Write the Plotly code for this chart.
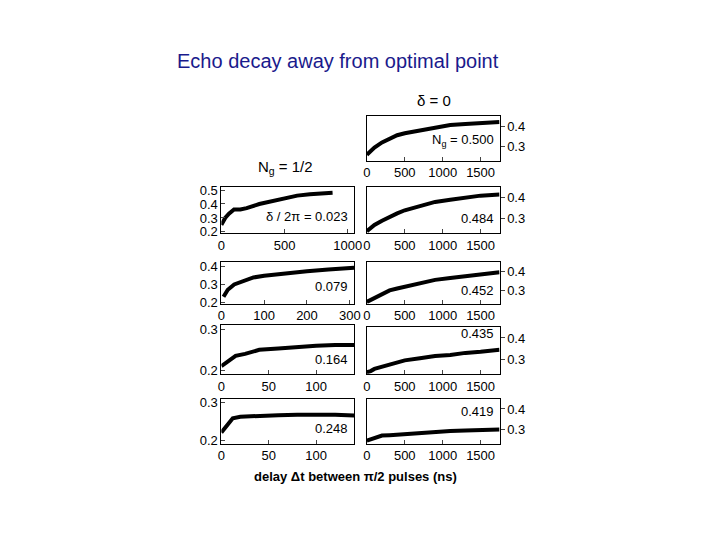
import plotly.graph_objects as go

W, H = 704, 524
OFF = 8
# data
t_long = [0, 50, 100, 200, 300, 400, 500, 700, 900, 1100, 1300, 1500, 1750]
d0 = [0.26, 0.28, 0.295, 0.32, 0.34, 0.355, 0.365, 0.38, 0.395, 0.405, 0.41, 0.415, 0.42]
r484 = [0.24, 0.255, 0.27, 0.29, 0.31, 0.325, 0.34, 0.36, 0.38, 0.39, 0.40, 0.41, 0.415]
r452 = [0.24, 0.25, 0.265, 0.285, 0.30, 0.31, 0.32, 0.34, 0.355, 0.365, 0.375, 0.385, 0.395]
r435 = [0.24, 0.245, 0.255, 0.265, 0.275, 0.285, 0.295, 0.305, 0.315, 0.32, 0.33, 0.335, 0.345]
r419 = [0.245, 0.25, 0.26, 0.27, 0.272, 0.275, 0.278, 0.283, 0.29, 0.292, 0.295, 0.298, 0.30]
t_l1 = [0, 30, 60, 100, 150, 200, 300, 400, 500, 600, 700, 800, 880]
l1 = [0.25, 0.30, 0.33, 0.36, 0.36, 0.37, 0.40, 0.42, 0.445, 0.46, 0.47, 0.475, 0.48]
t_l2 = [5, 15, 30, 50, 75, 100, 150, 200, 250, 300, 310]
l2 = [0.23, 0.27, 0.30, 0.32, 0.34, 0.35, 0.365, 0.375, 0.385, 0.39, 0.395]
t_l3 = [0, 15, 25, 40, 60, 80, 100, 120, 140]
l3 = [0.21, 0.235, 0.24, 0.25, 0.253, 0.257, 0.26, 0.262, 0.262]
t_l4 = [0, 12, 20, 40, 60, 80, 100, 120, 140]
l4 = [0.22, 0.258, 0.262, 0.265, 0.266, 0.267, 0.268, 0.267, 0.265]

def fx(x): return (x - OFF) / W
def fy(y): return 1 - (y - OFF) / H
def px(x0, x1): return [fx(x0), fx(x1)]
def py(y0, y1): return [fy(y1), fy(y0)]

fig = go.Figure()
panels = [
    ((369, 504), (113, 159), t_long, d0, [0, 1750], [0.23, 0.45], [0, 500, 1000, 1500], [0.3, 0.4], "right", "N<sub>g</sub> = 0.500", 0.33),
    ((221, 356), (186, 233), t_l1, l1, [0, 1050], [0.19, 0.52], [0, 500, 1000], [0.2, 0.3, 0.4, 0.5], "left", "δ / 2π = 0.023", 0.31),
    ((369, 504), (186, 233), t_long, r484, [0, 1750], [0.23, 0.45], [0, 500, 1000, 1500], [0.3, 0.4], "right", "0.484", 0.30),
    ((221, 356), (262, 305), t_l2, l2, [0, 310], [0.19, 0.43], [0, 100, 200, 300], [0.2, 0.3, 0.4], "left", "0.079", 0.29),
    ((369, 504), (262, 305), t_long, r452, [0, 1750], [0.23, 0.45], [0, 500, 1000, 1500], [0.3, 0.4], "right", "0.452", 0.30),
    ((221, 356), (327, 377), t_l3, l3, [0, 140], [0.19, 0.31], [0, 50, 100], [0.2, 0.3], "left", "0.164", 0.225),
    ((369, 504), (329, 377), t_long, r435, [0, 1750], [0.23, 0.45], [0, 500, 1000, 1500], [0.3, 0.4], "right", "0.435", 0.42),
    ((221, 356), (402, 448), t_l4, l4, [0, 140], [0.19, 0.31], [0, 50, 100], [0.2, 0.3], "left", "0.248", 0.23),
    ((369, 504), (402, 448), t_long, r419, [0, 1750], [0.23, 0.45], [0, 500, 1000, 1500], [0.3, 0.4], "right", "0.419", 0.39),
]
font = dict(family="Liberation Sans, Arial", size=13, color="black")
for i, (xd, yd, t, y, xr, yr, xt, yt, side, lab, ly) in enumerate(panels):
    n = "" if i == 0 else str(i + 1)
    fig.add_trace(go.Scatter(x=t, y=y, mode="lines", line=dict(color="black", width=4),
                             xaxis="x" + n, yaxis="y" + n, showlegend=False))
    ax = dict(domain=px(*xd), range=xr, tickvals=xt, showgrid=False, zeroline=False,
              showline=True, mirror=True, linecolor="black", linewidth=1,
              ticks="inside", ticklen=4, tickfont=font, anchor="y" + n)
    ay = dict(domain=py(*yd), range=yr, tickvals=yt, showgrid=False, zeroline=False,
              showline=True, mirror=True, linecolor="black", linewidth=1,
              ticks="outside" if side == "right" else "inside", ticklen=4,
              tickfont=font, side=side, anchor="x" + n)
    fig.update_layout(**{"xaxis" + n: ax, "yaxis" + n: ay})
    fig.add_annotation(x=xr[1] * 0.97, y=ly, xref="x" + n, yref="y" + n, text=lab,
                       showarrow=False, xanchor="right", yanchor="middle", font=font)

def label(x, y, text, size, color="black"):
    fig.add_annotation(x=fx(x), y=fy(y), xref="paper", yref="paper", showarrow=False,
                       xanchor="center", yanchor="middle", text=text,
                       font=dict(family="Liberation Sans, Arial", size=size, color=color))

label(340, 57, "Echo decay away from optimal point", 20, "#1a1a8c")
label(437, 97, "δ = 0", 15)
label(286, 166, "N<sub>g</sub> = 1/2", 15)
label(357, 481, "<b>delay Δt between π/2 pulses (ns)</b>", 13)
fig.update_layout(width=W, height=H, margin=dict(l=0, r=0, t=0, b=0),
                  paper_bgcolor="white", plot_bgcolor="white")
fig.write_html("out.html")
